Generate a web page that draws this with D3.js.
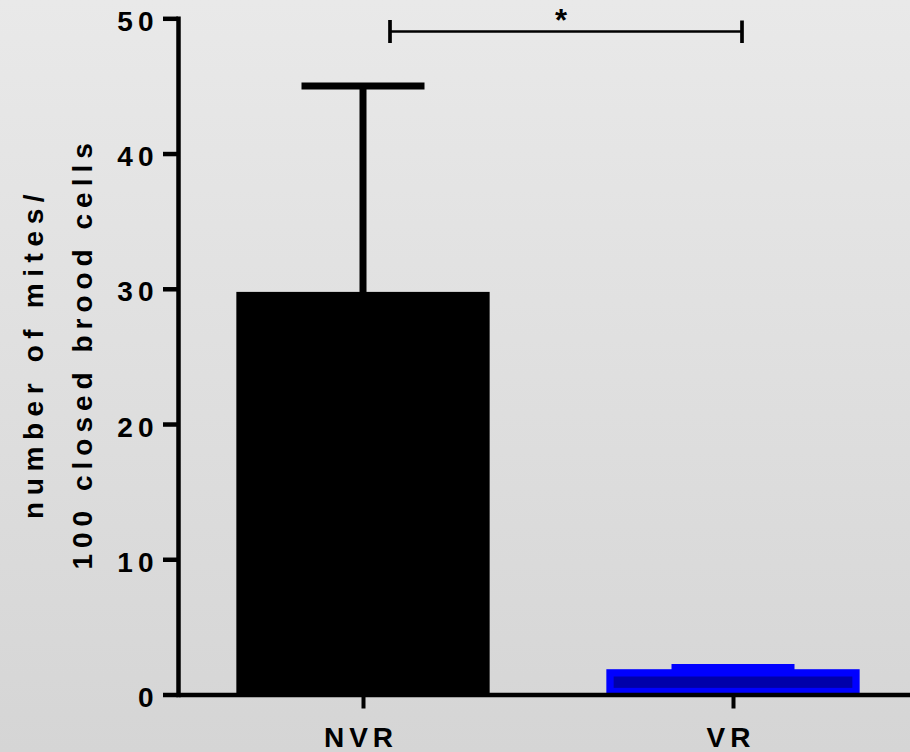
<!DOCTYPE html>
<html>
<head>
<meta charset="utf-8">
<script src="https://cdn.jsdelivr.net/npm/d3@7"></script>
<style>
  body { margin: 0; }
  text { font-family: "Liberation Sans", Arial, sans-serif; font-weight: bold; }
</style>
</head>
<body>
<script>
const width = 910, height = 752;

const categories = ["NVR", "VR"];
const means = [29.5, 1.6];
const sds = [15.5, 0.4];
const yTicks = [0, 10, 20, 30, 40, 50];
const titleLines = ["number of mites/", "100 closed brood cells"];
const sigLabel = "*";

const fills = ["#000000", "#0000aa"];
const strokes = ["#000000", "#0000ff"];

const svg = d3.select("body").append("svg").attr("width", width).attr("height", height);

// background gradient
const grad = svg.append("defs").append("linearGradient")
    .attr("id", "bg").attr("x1", 0).attr("y1", 0).attr("x2", 0).attr("y2", 1);
grad.append("stop").attr("offset", "0%").attr("stop-color", "#e9e9e9");
grad.append("stop").attr("offset", "100%").attr("stop-color", "#d5d5d5");
svg.append("rect").attr("width", width).attr("height", height).attr("fill", "url(#bg)");

const x = d3.scalePoint().domain(categories).range([178, 918]).padding(0.5);
const y = d3.scaleLinear().domain([0, 50]).range([694.5, 18.3]);

const barW = 246, barStroke = 7.3, capW = 123, errW = 7;

const data = categories.map((c, i) => ({ cat: c, mean: means[i], sd: sds[i], fill: fills[i], stroke: strokes[i] }));

// bars
svg.append("g").selectAll("rect").data(data).enter().append("rect")
    .attr("x", d => x(d.cat) - barW / 2)
    .attr("y", d => y(d.mean))
    .attr("width", barW)
    .attr("height", d => y(0) - y(d.mean) - 3)
    .attr("fill", d => d.fill)
    .attr("stroke", d => d.stroke)
    .attr("stroke-width", barStroke);

// error bars (upper only)
const err = svg.append("g").selectAll("g").data(data).enter().append("g");
err.append("line")
    .attr("x1", d => x(d.cat)).attr("x2", d => x(d.cat))
    .attr("y1", d => y(d.mean)).attr("y2", d => y(d.mean + d.sd))
    .attr("stroke", d => d.stroke).attr("stroke-width", errW);
err.append("line")
    .attr("x1", d => x(d.cat) - capW / 2).attr("x2", d => x(d.cat) + capW / 2)
    .attr("y1", d => y(d.mean + d.sd)).attr("y2", d => y(d.mean + d.sd))
    .attr("stroke", d => d.stroke).attr("stroke-width", errW);

// y axis
const yAxis = svg.append("g").attr("transform", "translate(178,0)")
    .call(d3.axisLeft(y).tickValues(yTicks).tickSize(15).tickSizeOuter(0).tickPadding(4.5));
yAxis.select(".domain").attr("stroke", "#000").attr("stroke-width", 4.5).attr("stroke-linecap", "square");
yAxis.selectAll(".tick line").attr("stroke", "#000").attr("stroke-width", 4.5);
yAxis.selectAll(".tick text")
    .attr("font-size", 28).attr("font-family", null).attr("fill", "#000")
    .attr("letter-spacing", 5).attr("dy", "0.43em");

// x axis
const xAxis = svg.append("g").attr("transform", `translate(0,${y(0)})`)
    .call(d3.axisBottom(x).tickSize(14).tickSizeOuter(0).tickPadding(0));
xAxis.select(".domain").attr("stroke", "#000").attr("stroke-width", 4.5);
xAxis.selectAll(".tick line").attr("stroke", "#000").attr("stroke-width", 4);
xAxis.selectAll(".tick text")
    .attr("font-size", 28).attr("font-family", null).attr("fill", "#000")
    .attr("letter-spacing", 5).attr("y", 52).attr("dy", 0).attr("dx", -2.5);

// y axis title
const title = svg.append("text")
    .attr("transform", `translate(43,${(y(0) + y(50)) / 2}) rotate(-90)`)
    .attr("text-anchor", "middle").attr("font-size", 28);
titleLines.forEach((t, i) => {
    title.append("tspan").attr("x", 3).attr("dy", i === 0 ? 0 : 49)
        .attr("letter-spacing", i === 0 ? 6.6 : 6).text(t);
});

// significance bracket
const bx1 = x("NVR") + 27, bx2 = x("VR") + 9, by = 31.5;
const br = svg.append("g").attr("stroke", "#000");
br.append("line").attr("x1", bx1).attr("x2", bx2).attr("y1", by).attr("y2", by).attr("stroke-width", 2.5);
br.append("line").attr("x1", bx1).attr("x2", bx1).attr("y1", 20).attr("y2", 43).attr("stroke-width", 3.7);
br.append("line").attr("x1", bx2).attr("x2", bx2).attr("y1", 20.5).attr("y2", 43).attr("stroke-width", 3.7);
svg.append("text").attr("x", (bx1 + bx2) / 2 - 5).attr("y", 31)
    .attr("text-anchor", "middle").attr("font-size", 31).text(sigLabel);
</script>
</body>
</html>
